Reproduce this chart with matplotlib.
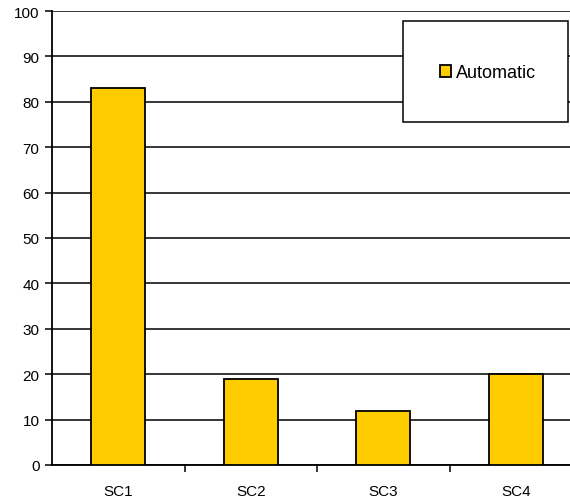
import matplotlib.pyplot as plt
from matplotlib.patches import Rectangle
import numpy as np

plt.rcParams['font.family'] = ['Liberation Sans', 'DejaVu Sans']

# Dados
categorias = ['SC1', 'SC2', 'SC3', 'SC4']
automatic = [83, 19, 12, 20]
y_ticks = [0, 10, 20, 30, 40, 50, 60, 70, 80, 90, 100]

fig = plt.figure(figsize=(5.7, 5.02), dpi=100)
ax = fig.add_axes([52/570, 36/502, 1 - 52/570, 454/502])

x = np.arange(len(categorias))
ax.bar(x, automatic, width=0.41, color='#FFCC00', edgecolor='black',
       linewidth=1.3, zorder=3, label='Automatic')

# Eixos
ax.set_yticks(y_ticks)
ax.set_yticklabels([str(v) for v in y_ticks], fontsize=11)
ax.yaxis.grid(True, color='black', linewidth=1.1, zorder=0)
ax.set_axisbelow(True)

ax.set_xticks(x)
ax.set_xticklabels(categorias, fontsize=11)
ax.tick_params(axis='x', which='major', length=0, pad=14)
ax.set_xticks(np.arange(len(categorias) - 1) + 0.5, minor=True)
ax.tick_params(axis='x', which='minor', length=5, width=1.1, direction='out')
ax.tick_params(axis='y', length=5, width=1.1, direction='out', pad=4)

# limites depois dos ticks (set_xticks pode expandir)
ax.set_ylim(0, 100)
ax.set_xlim(-0.5, -0.5 + (570 - 52) / 132.5)

for lado in ['top', 'right']:
    ax.spines[lado].set_visible(False)
for lado in ['left', 'bottom']:
    ax.spines[lado].set_linewidth(1.3)

# Legenda com caixa grande
fig.patches.append(Rectangle((403/570, (502-123)/502), 165/570, 101/502,
                             transform=fig.transFigure, facecolor='white',
                             edgecolor='black', linewidth=1.1, zorder=5))
leg = fig.legend(loc='center', bbox_to_anchor=(488/570, (502-74)/502),
                 frameon=False, fontsize=13, handlelength=0.6,
                 handleheight=0.6, handletextpad=0.3)
leg.set_zorder(6)

fig.savefig('out.png', dpi=100)
